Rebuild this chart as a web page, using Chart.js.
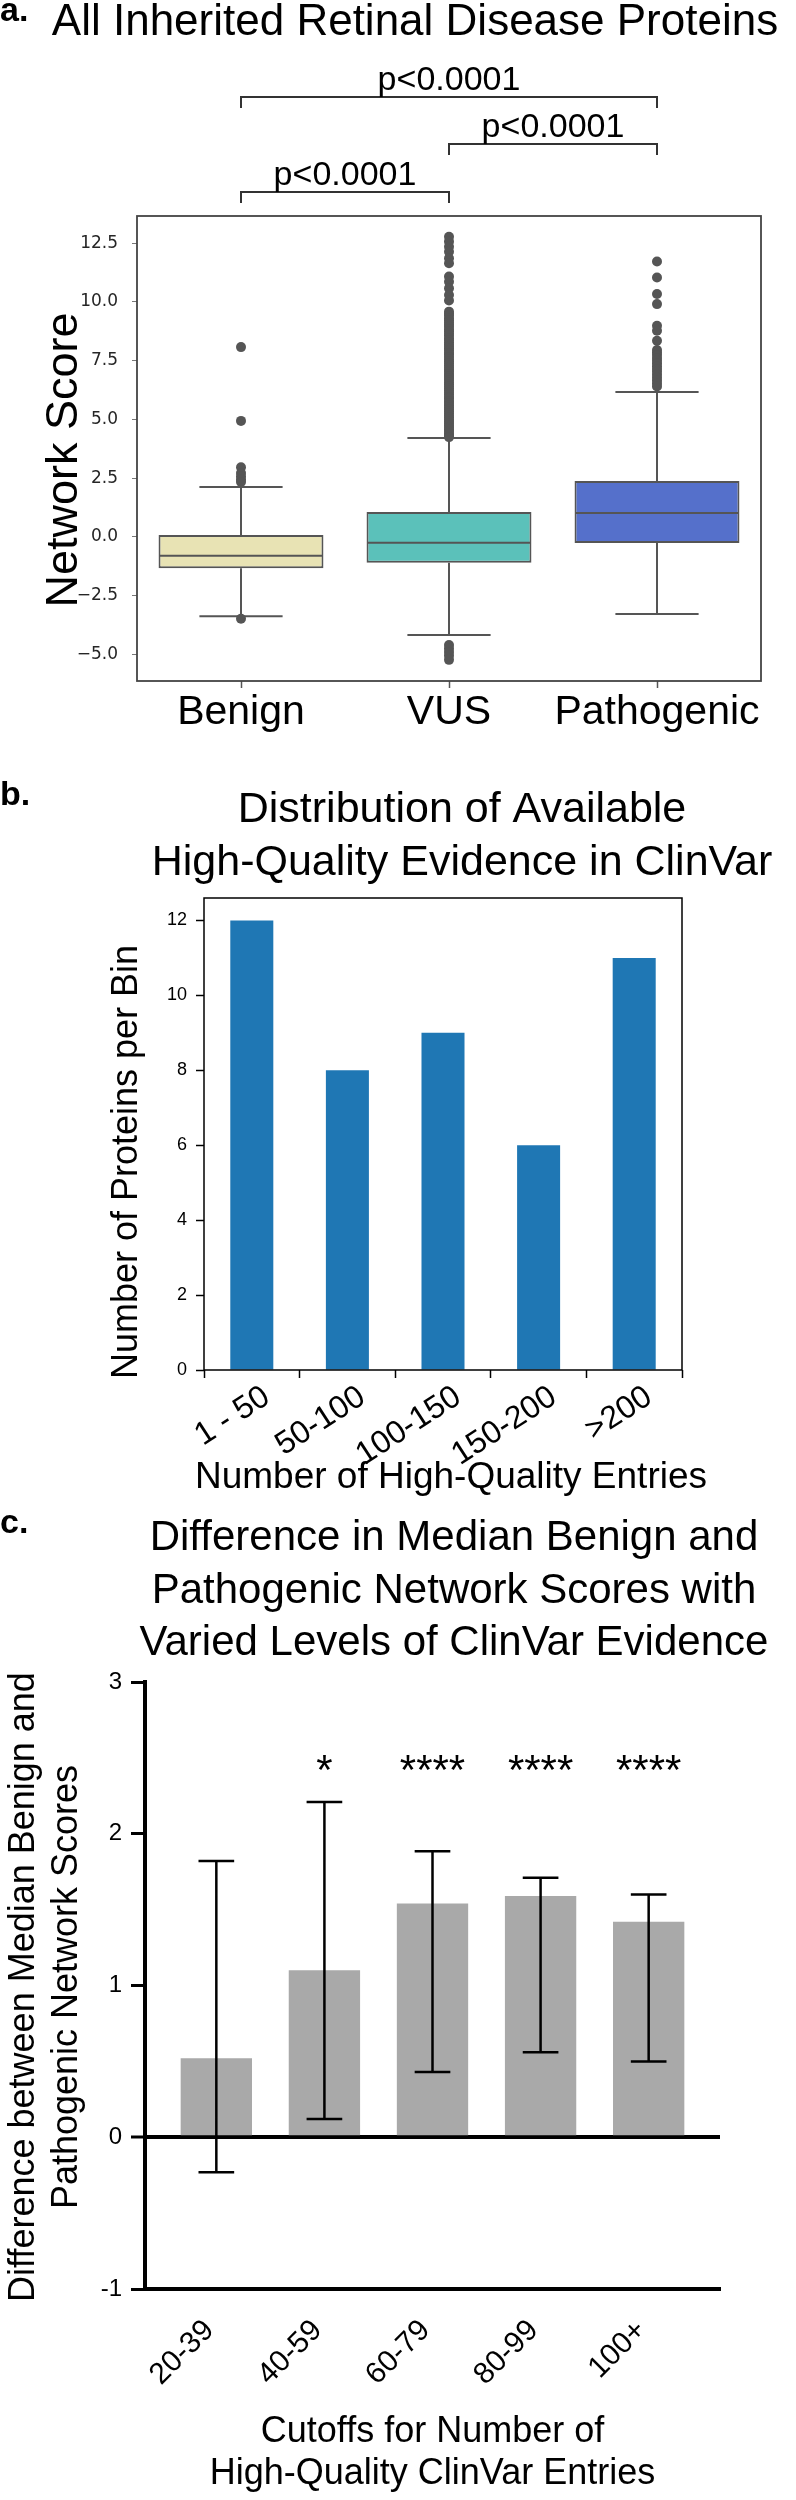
<!DOCTYPE html>
<html>
<head>
<meta charset="utf-8">
<title>Network scores of inherited retinal disease proteins</title>
<script src="https://cdn.jsdelivr.net/npm/chart.js@4.4.1/dist/chart.umd.min.js"></script>
<style>
  html, body { margin: 0; padding: 0; background: #fff; overflow: hidden; }
  canvas { position: absolute; left: 0; }
  #panel-a { top: 0; }
  #panel-b { top: 750px; }
  #panel-c { top: 1500px; }
</style>
</head>
<body>
<canvas id="panel-a" width="796" height="750"></canvas>
<canvas id="panel-b" width="796" height="750"></canvas>
<canvas id="panel-c" width="796" height="1000"></canvas>
<script>
// --- Panel a: network score per ClinVar class (box plot) ---
const CLASSES = ['Benign', 'VUS', 'Pathogenic'];
const CLASS_COLORS = ['#e8e3b4', '#5bc1ba', '#5570cb'];
const BOX_Q1 = [-1.33, -1.10, -0.26];
const BOX_MEDIAN = [-0.80, -0.25, 1.02];
const BOX_Q3 = [0.08, 1.06, 2.38];
const WHISKER_LOW = [-3.37, -4.17, -3.28];
const WHISKER_HIGH = [2.13, 4.21, 6.17];
const BENIGN_OUTLIERS = [8.08, 4.94, 2.97, 2.72, 2.58, 2.45, 2.34, -3.48];
const VUS_OUTLIERS = [12.78, 12.57, 12.35, 12.14, 11.86, 11.65, 11.08, 10.86, 10.58, 10.30, 10.06,
  9.59, 9.50, 9.41, 9.30, 9.22, 9.12, 9.03, 8.95, 8.84, 8.76, 8.65, 8.57, 8.46, 8.38, 8.29, 8.19,
  8.10, 8.02, 7.93, 7.83, 7.75, 7.66, 7.56, 7.48, 7.39, 7.30, 7.20, 7.12, 7.03, 6.94, 6.85, 6.77,
  6.68, 6.58, 6.50, 6.41, 6.32, 6.23, 6.14, 6.05, 5.96, 5.88, 5.79, 5.70, 5.61, 5.52, 5.44, 5.35,
  5.26, 5.17, 5.09, 5.00, 4.91, 4.83, 4.74, 4.65, 4.57, 4.48, 4.40, 4.31, 4.25,
  -4.60, -4.75, -4.90, -5.05, -5.23];
const PATHOGENIC_OUTLIERS = [11.72, 11.04, 10.34, 9.91, 8.99, 8.78, 8.35, 7.96, 7.85, 7.74, 7.62,
  7.50, 7.39, 7.27, 7.15, 7.03, 6.90, 6.78, 6.66, 6.53, 6.40];
const SCORE_TICKS = [-5, -2.5, 0, 2.5, 5, 7.5, 10, 12.5];
const COMPARISONS = [[0, 2], [1, 2], [0, 1]];
const COMPARISON_P = ['p<0.0001', 'p<0.0001', 'p<0.0001'];

// --- Panel b: proteins per evidence bin ---
const BIN_LABELS = ['1 - 50', '50-100', '100-150', '150-200', '>200'];
const BIN_COUNTS = [12, 8, 9, 6, 11];
const COUNT_TICKS = [0, 2, 4, 6, 8, 10, 12];

// --- Panel c: median difference by evidence cutoff ---
const CUTOFF_LABELS = ['20-39', '40-59', '60-79', '80-99', '100+'];
const MEDIAN_DIFF = [0.52, 1.10, 1.54, 1.59, 1.42];
const DIFF_LOW = [-0.23, 0.12, 0.43, 0.56, 0.50];
const DIFF_HIGH = [1.82, 2.21, 1.885, 1.71, 1.60];
const SIGNIFICANCE = ['', '*', '****', '****', '****'];
const DIFF_TICKS = [-1, 0, 1, 2, 3];

const FONT = '"Liberation Sans", Arial, Helvetica, sans-serif';
Chart.defaults.font.family = FONT;
Chart.defaults.color = '#000';

const baseOptions = {
  responsive: false,
  animation: false,
  events: [],
  plugins: { legend: { display: false }, tooltip: { enabled: false } }
};

function fixedTicks(values) {
  return scale => { scale.ticks = values.map(v => ({ value: v })); };
}

// one polyline per segment, broken with null points
function segments(list) {
  const pts = [];
  list.forEach(([x1, y1, x2, y2]) => {
    pts.push({ x: x1, y: y1 }, { x: x2, y: y2 }, { x: x2, y: null });
  });
  return pts;
}

// plain / rotated text helpers for titles and panel letters
function text(ctx, str, x, y, font, align = 'center') {
  ctx.font = font;
  ctx.textAlign = align;
  ctx.textBaseline = 'alphabetic';
  ctx.fillText(str, x, y);
}
function vtext(ctx, str, x, y, font) {
  ctx.save();
  ctx.translate(x, y);
  ctx.rotate(-Math.PI / 2);
  ctx.font = font;
  ctx.textAlign = 'center';
  ctx.textBaseline = 'middle';
  ctx.fillText(str, 0, 0);
  ctx.restore();
}

// ---------------- Panel a ----------------
function buildPanelA() {
  const cap = 0.2, half = 0.39;
  const lines = [];
  CLASSES.forEach((_, i) => {
    lines.push([i, BOX_Q3[i], i, WHISKER_HIGH[i]]);
    lines.push([i, BOX_Q1[i], i, WHISKER_LOW[i]]);
    lines.push([i - cap, WHISKER_HIGH[i], i + cap, WHISKER_HIGH[i]]);
    lines.push([i - cap, WHISKER_LOW[i], i + cap, WHISKER_LOW[i]]);
    lines.push([i - half, BOX_MEDIAN[i], i + half, BOX_MEDIAN[i]]);
  });
  const outliers = [BENIGN_OUTLIERS, VUS_OUTLIERS, PATHOGENIC_OUTLIERS]
    .flatMap((vals, i) => vals.map(v => ({ x: i, y: v })));

  const extras = {
    id: 'panelAExtras',
    afterDraw(chart) {
      const { ctx, chartArea: a, scales: { x } } = chart;
      ctx.save();
      ctx.strokeStyle = '#444';
      ctx.lineWidth = 1.8;
      ctx.strokeRect(a.left, a.top, a.right - a.left, a.bottom - a.top);

      ctx.fillStyle = '#000';
      text(ctx, 'a.', 0, 21, 'bold 34px ' + FONT, 'left');
      text(ctx, 'All Inherited Retinal Disease Proteins', 415, 35, '44px ' + FONT);
      vtext(ctx, 'Network Score', 65, 460, '45px ' + FONT);

      // significance brackets above the plot
      const rise = [119, 72, 24];
      ctx.strokeStyle = '#333';
      ctx.lineWidth = 2;
      COMPARISONS.forEach(([i, j], k) => {
        const y = a.top - rise[k];
        const x1 = x.getPixelForValue(i), x2 = x.getPixelForValue(j);
        ctx.beginPath();
        ctx.moveTo(x1, y + 11);
        ctx.lineTo(x1, y);
        ctx.lineTo(x2, y);
        ctx.lineTo(x2, y + 11);
        ctx.stroke();
        text(ctx, COMPARISON_P[k], (x1 + x2) / 2, y - 7, '34px ' + FONT);
      });
      ctx.restore();
    }
  };

  new Chart(document.getElementById('panel-a'), {
    type: 'bar',
    data: {
      datasets: [
        {
          type: 'scatter',
          data: outliers,
          pointRadius: 5,
          pointBackgroundColor: '#555',
          pointBorderWidth: 0,
          order: 1
        },
        {
          type: 'scatter',
          data: segments(lines),
          showLine: true,
          spanGaps: false,
          borderColor: '#555',
          borderWidth: 2,
          pointRadius: 0,
          order: 2
        },
        {
          data: BOX_Q1.map((q, i) => ({ x: i, y: [q, BOX_Q3[i]] })),
          backgroundColor: CLASS_COLORS,
          borderColor: '#555',
          borderWidth: 2,
          borderSkipped: false,
          barPercentage: 0.793,
          categoryPercentage: 1,
          order: 3
        }
      ]
    },
    options: {
      ...baseOptions,
      layout: { padding: { top: 216, right: 35, left: 0, bottom: 0 } },
      scales: {
        x: {
          type: 'linear',
          offset: false,
          bounds: 'data',
          min: -0.5,
          max: 2.5,
          afterBuildTicks: fixedTicks([0, 1, 2]),
          afterFit: s => { s.height = 69; },
          ticks: {
            callback: v => CLASSES[v],
            autoSkip: false,
            maxRotation: 0,
            font: { size: 41, lineHeight: 1.2 },
            padding: 0
          },
          grid: { offset: false, drawOnChartArea: false, tickLength: 7, tickColor: '#555', tickWidth: 1.5 },
          border: { display: false }
        },
        y: {
          min: -6.13,
          max: 13.66,
          afterBuildTicks: fixedTicks(SCORE_TICKS),
          afterFit: s => { s.width = 137; },
          ticks: {
            callback: v => v.toFixed(1).replace('-', '\u2212'),
            font: { family: '"DejaVu Sans", sans-serif', size: 17 },
            color: '#262626',
            padding: 14
          },
          grid: { drawOnChartArea: false, tickLength: 5, tickColor: '#777' },
          border: { display: false }
        }
      }
    },
    plugins: [extras]
  });
}

// ---------------- Panel b ----------------
function buildPanelB() {
  const extras = {
    id: 'panelBExtras',
    afterDraw(chart) {
      const { ctx, chartArea: a } = chart;
      ctx.save();
      ctx.strokeStyle = '#000';
      ctx.lineWidth = 1.5;
      ctx.strokeRect(a.left, a.top, a.right - a.left, a.bottom - a.top);
      ctx.fillStyle = '#000';
      text(ctx, 'b.', 0, 55, 'bold 34px ' + FONT, 'left');
      text(ctx, 'Distribution of Available', 462, 72, '43px ' + FONT);
      text(ctx, 'High-Quality Evidence in ClinVar', 462, 125, '43px ' + FONT);
      text(ctx, 'Number of High-Quality Entries', 451, 738, '37px ' + FONT);
      vtext(ctx, 'Number of Proteins per Bin', 127, 412, '36px ' + FONT);
      ctx.restore();
    }
  };

  new Chart(document.getElementById('panel-b'), {
    type: 'bar',
    data: {
      datasets: [{
        data: BIN_COUNTS.map((c, i) => ({ x: i, y: c })),
        backgroundColor: '#1f77b4',
        barPercentage: 0.45,
        categoryPercentage: 1
      }]
    },
    options: {
      ...baseOptions,
      layout: { padding: { top: 148, right: 114, left: 0, bottom: 0 } },
      scales: {
        x: {
          type: 'linear',
          offset: false,
          bounds: 'data',
          min: -0.5,
          max: 4.5,
          afterBuildTicks: fixedTicks([0, 1, 2, 3, 4]),
          afterFit: s => { s.height = 130; },
          ticks: {
            callback: v => BIN_LABELS[v],
            autoSkip: false,
            minRotation: 33,
            maxRotation: 33,
            labelOffset: 15,
            font: { size: 32 },
            padding: 0
          },
          grid: { offset: true, drawOnChartArea: false, tickLength: 8, tickColor: '#000', tickWidth: 1.5 },
          border: { display: false }
        },
        y: {
          min: 0,
          max: 12.6,
          afterBuildTicks: fixedTicks(COUNT_TICKS),
          afterFit: s => { s.width = 204; },
          ticks: { font: { size: 18 }, padding: 9 },
          grid: { drawOnChartArea: false, tickLength: 8, tickColor: '#000', tickWidth: 1.5 },
          border: { display: false }
        }
      }
    },
    plugins: [extras]
  });
}

// ---------------- Panel c ----------------
function buildPanelC() {
  const cap = 0.165;
  const lines = [];
  MEDIAN_DIFF.forEach((_, i) => {
    lines.push([i, DIFF_LOW[i], i, DIFF_HIGH[i]]);
    lines.push([i - cap, DIFF_HIGH[i], i + cap, DIFF_HIGH[i]]);
    lines.push([i - cap, DIFF_LOW[i], i + cap, DIFF_LOW[i]]);
  });

  const extras = {
    id: 'panelCExtras',
    afterDraw(chart) {
      const { ctx, scales: { x, y } } = chart;
      ctx.save();
      ctx.fillStyle = '#000';
      text(ctx, 'c.', 0, 33, 'bold 34px ' + FONT, 'left');
      text(ctx, 'Difference in Median Benign and', 454, 50, '42px ' + FONT);
      text(ctx, 'Pathogenic Network Scores with', 454, 103, '42px ' + FONT);
      text(ctx, 'Varied Levels of ClinVar Evidence', 454, 155, '42px ' + FONT);
      vtext(ctx, 'Difference between Median Benign and', 24, 487, '36px ' + FONT);
      vtext(ctx, 'Pathogenic Network Scores', 67, 487, '36px ' + FONT);
      // significance stars above the bars
      const starBase = y.getPixelForValue(2.33);
      SIGNIFICANCE.forEach((s, i) => {
        if (s) text(ctx, s, x.getPixelForValue(i), starBase, '42px ' + FONT);
      });
      ctx.restore();
    }
  };

  const zeroOnly = (on, off) => c => (c.tick && c.tick.value === 0 ? on : off);

  new Chart(document.getElementById('panel-c'), {
    type: 'bar',
    data: {
      datasets: [
        {
          type: 'scatter',
          data: segments(lines),
          showLine: true,
          spanGaps: false,
          borderColor: '#000',
          borderWidth: 2.5,
          pointRadius: 0,
          order: 1
        },
        {
          data: MEDIAN_DIFF.map((d, i) => ({ x: i, y: d })),
          backgroundColor: '#a9a9a9',
          barPercentage: 0.66,
          categoryPercentage: 1,
          order: 2
        }
      ]
    },
    options: {
      ...baseOptions,
      layout: { padding: { top: 182, right: 76, left: 0, bottom: 0 } },
      scales: {
        x: {
          type: 'linear',
          offset: false,
          bounds: 'data',
          min: -0.66,
          max: 4.66,
          afterBuildTicks: fixedTicks([0, 1, 2, 3, 4]),
          afterFit: s => { s.height = 211; },
          ticks: {
            callback: v => CUTOFF_LABELS[v],
            autoSkip: false,
            minRotation: 45,
            maxRotation: 45,
            labelOffset: -7,
            font: { size: 30 },
            padding: 16
          },
          grid: { display: false },
          border: { display: true, color: '#000', width: 4 },
          title: {
            display: true,
            text: ['Cutoffs for Number of', 'High-Quality ClinVar Entries'],
            font: { size: 36, lineHeight: 1.1667 },
            padding: { top: 0, bottom: 5 }
          }
        },
        y: {
          min: -1,
          max: 3,
          afterBuildTicks: fixedTicks(DIFF_TICKS),
          afterFit: s => { s.width = 145; },
          ticks: { font: { size: 24 }, padding: 9 },
          grid: {
            drawOnChartArea: true,
            color: zeroOnly('#000', 'rgba(0,0,0,0)'),
            lineWidth: zeroOnly(4, 1),
            tickLength: 14,
            tickColor: '#000',
            tickWidth: 3
          },
          border: { display: true, color: '#000', width: 4 }
        }
      }
    },
    plugins: [extras]
  });
}

window.onload = () => {
  buildPanelA();
  buildPanelB();
  buildPanelC();
};
</script>
</body>
</html>
